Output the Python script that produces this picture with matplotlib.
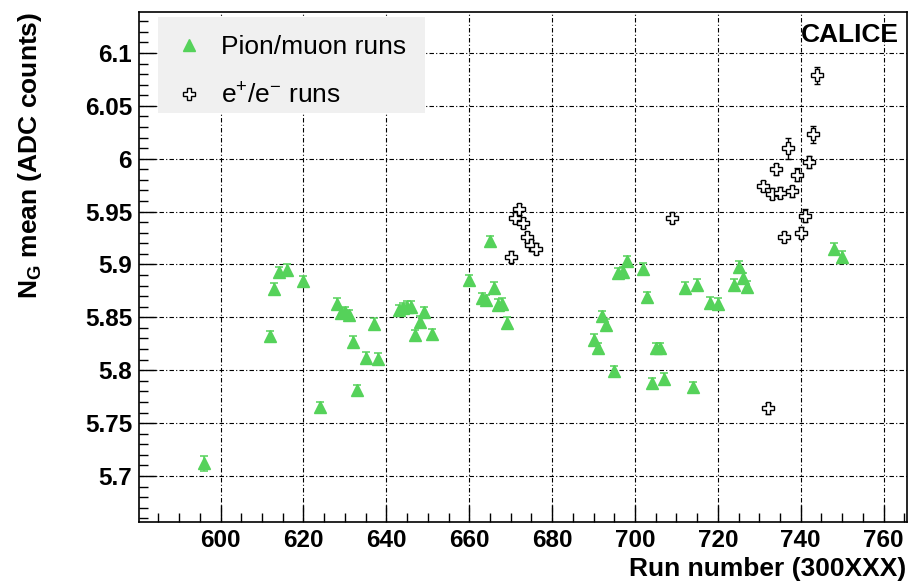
import numpy as np
import matplotlib
matplotlib.use("Agg")
import matplotlib.pyplot as plt
from matplotlib.lines import Line2D
from matplotlib.patches import Rectangle

plt.rcParams['font.family'] = ['Liberation Sans', 'DejaVu Sans']
plt.rcParams['mathtext.default'] = 'regular'

# pion / muon runs
pion_run = [596, 612, 613, 614, 616, 620, 624, 628, 629, 630, 631, 632, 633, 635,
            637, 638, 643, 644, 645, 646, 647, 648, 649, 651, 660, 663, 664, 665,
            666, 667, 668, 669, 690, 691, 692, 693, 695, 696, 697, 698, 702, 703,
            704, 705, 706, 707, 712, 714, 715, 718, 720, 724, 725, 726, 727, 748, 750]
pion_ng = [5.712, 5.832, 5.877, 5.893, 5.895, 5.884, 5.765, 5.863, 5.854, 5.855,
           5.852, 5.827, 5.781, 5.812, 5.844, 5.811, 5.857, 5.859, 5.860, 5.860,
           5.833, 5.846, 5.855, 5.834, 5.885, 5.868, 5.866, 5.922, 5.878, 5.862,
           5.863, 5.845, 5.829, 5.821, 5.851, 5.843, 5.799, 5.892, 5.893, 5.903,
           5.896, 5.869, 5.788, 5.821, 5.821, 5.792, 5.878, 5.784, 5.881, 5.864,
           5.863, 5.881, 5.898, 5.887, 5.879, 5.915, 5.9075]
pion_err = [0.007] + [0.005] * (len(pion_run) - 1)

# e+/e- runs
ele_run = [670, 671, 672, 673, 674, 675, 676, 709, 731, 732, 733, 734, 735, 736,
           737, 738, 739, 740, 741, 742, 743, 744]
ele_ng = [5.9075, 5.944, 5.952, 5.939, 5.926, 5.918, 5.915, 5.944, 5.974, 5.764,
          5.967, 5.990, 5.968, 5.926, 6.010, 5.969, 5.985, 5.930, 5.946, 5.997,
          6.023, 6.079]
ele_err = [0.005, 0.005, 0.005, 0.005, 0.005, 0.005, 0.005, 0.005, 0.005, 0.005,
           0.005, 0.005, 0.005, 0.005, 0.010, 0.005, 0.006, 0.005, 0.006, 0.006,
           0.008, 0.008]

green = '#55d25a'

fig = plt.figure(figsize=(9.08, 5.84), dpi=100)
ax = fig.add_axes([0.1531, 0.1062, 0.8455, 0.8738])

ax.errorbar(pion_run, pion_ng, yerr=pion_err, fmt='^', color=green, ms=9,
            elinewidth=1.1, capsize=3, capthick=1.1, zorder=3)
ax.errorbar(ele_run, ele_ng, yerr=ele_err, fmt='P', mfc='white', mec='black',
            ecolor='black', ms=9, mew=1.0, elinewidth=1.0, capsize=2.5,
            capthick=1.0, zorder=4)

ax.set_xlim(580.3, 765.6)
ax.set_ylim(5.6565, 6.139)
ax.set_xticks(np.arange(600, 761, 20))
ax.set_xticks(np.arange(585, 766, 5), minor=True)
ax.set_yticks(np.arange(5.7, 6.101, 0.05))
ax.set_yticks(np.arange(5.66, 6.14, 0.01), minor=True)
ax.set_yticklabels(['5.7', '5.75', '5.8', '5.85', '5.9', '5.95', '6', '6.05', '6.1'])

ax.tick_params(which='both', direction='in', top=False, right=False, width=1)
ax.tick_params(which='major', length=12, labelsize=17.5, pad=5)
ax.tick_params(which='minor', length=6.5)
for lab in ax.get_xticklabels() + ax.get_yticklabels():
    lab.set_fontweight('bold')
for sp in ax.spines.values():
    sp.set_linewidth(1.2)

ax.grid(True, which='major', color='black', lw=0.8, ls=(0, (4, 2, 1, 2)))
ax.set_axisbelow(True)

# legend background box
ax.add_patch(Rectangle((0.0247, 0.8015), 0.3478, 0.188, transform=ax.transAxes,
                       facecolor='#f0f0f0', edgecolor='none', zorder=2))

handles = [Line2D([], [], ls='none', marker='^', color=green, ms=9),
           Line2D([], [], ls='none', marker='P', mfc='white', mec='black', ms=9, mew=1.0)]
leg = ax.legend(handles, ['Pion/muon runs', 'e$^{+}$/e$^{-}$ runs'],
                loc='upper left', bbox_to_anchor=(0.0247, 0.9857),
                borderaxespad=0, fontsize=19, frameon=False,
                labelspacing=0.9, handlelength=1.14, handletextpad=0.64,
                borderpad=0.62)

ax.text(0.9895, 0.955, 'CALICE', transform=ax.transAxes, ha='right', va='center',
        fontsize=19, fontweight='bold')

fig.text(906 / 908, 1 - 569 / 584, 'Run number (300XXX)', ha='right', va='center',
         fontsize=19, fontweight='bold')
fig.text(30 / 908, 1 - 12 / 584, 'N$_G$ mean (ADC counts)', ha='center', va='top',
         rotation=90, fontsize=19, fontweight='bold')

fig.savefig('out.png', dpi=100)
